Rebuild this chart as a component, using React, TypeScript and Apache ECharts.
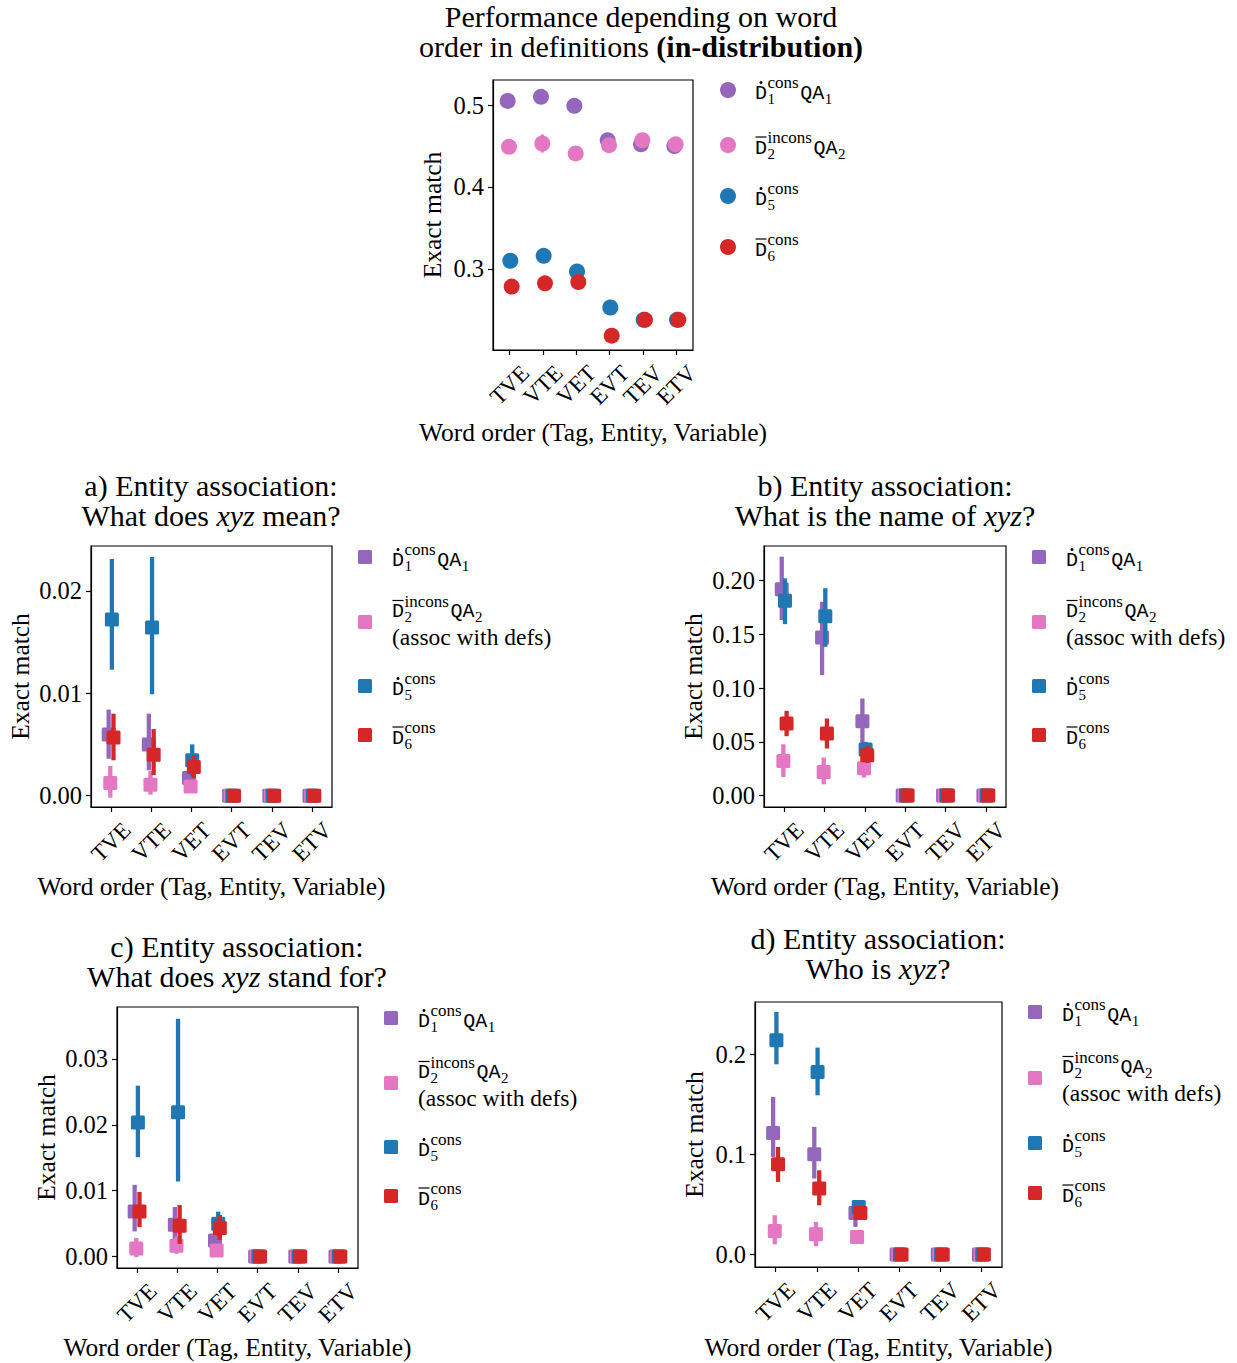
import React, { useEffect, useRef } from 'react';
import * as echarts from 'echarts';

// ---------------- data ----------------
const categories = ['TVE', 'VTE', 'VET', 'EVT', 'TEV', 'ETV'];
const seriesColors = ['#9467bd', '#e377c2', '#1f77b4', '#d62728'];
const dodge = [-0.06, -0.02, 0.02, 0.06];

// Top panel (in-distribution)
const topD1 = [0.505, 0.510, 0.499, 0.457, 0.452, 0.450];
const topD1Lo = [0.503, 0.508, 0.494, 0.453, 0.450, 0.448];
const topD1Hi = [0.507, 0.512, 0.503, 0.461, 0.454, 0.452];
const topD2 = [0.449, 0.453, 0.441, 0.451, 0.457, 0.452];
const topD2Lo = [0.447, 0.442, 0.439, 0.449, 0.455, 0.450];
const topD2Hi = [0.451, 0.464, 0.443, 0.453, 0.459, 0.454];
const topD5 = [0.310, 0.316, 0.297, 0.253, 0.238, 0.238];
const topD5Lo = [0.308, 0.314, 0.295, 0.251, 0.236, 0.236];
const topD5Hi = [0.312, 0.318, 0.299, 0.255, 0.240, 0.240];
const topD6 = [0.2785, 0.2825, 0.284, 0.2187, 0.238, 0.238];
const topD6Lo = [0.2765, 0.2805, 0.282, 0.2167, 0.236, 0.236];
const topD6Hi = [0.2805, 0.2845, 0.286, 0.2207, 0.240, 0.240];

// a) What does xyz mean?
const aD1 = [0.00596, 0.00498, 0.00172, 0, 0, 0];
const aD1Lo = [0.0036, 0.00247, 0.0010, 0, 0, 0];
const aD1Hi = [0.0084, 0.0080, 0.0025, 0, 0, 0];
const aD2 = [0.00123, 0.00107, 0.0009, 0, 0, 0];
const aD2Lo = [-0.0002, 0.0001, 0.0006, 0, 0, 0];
const aD2Hi = [0.0029, 0.0024, 0.0012, 0, 0, 0];
const aD5 = [0.0172, 0.01642, 0.00345, 0, 0, 0];
const aD5Lo = [0.0123, 0.0099, 0.0019, 0, 0, 0];
const aD5Hi = [0.0231, 0.0233, 0.0050, 0, 0, 0];
const aD6 = [0.00567, 0.0040, 0.0028, 0, 0, 0];
const aD6Lo = [0.00345, 0.0020, 0.0017, 0, 0, 0];
const aD6Hi = [0.0080, 0.0065, 0.0039, 0, 0, 0];

// b) What is the name of xyz?
const bD1 = [0.192, 0.1472, 0.0692, 0, 0, 0];
const bD1Lo = [0.1634, 0.1121, 0.0485, 0, 0, 0];
const bD1Hi = [0.2224, 0.1804, 0.0904, 0, 0, 0];
const bD2 = [0.0323, 0.022, 0.0254, 0, 0, 0];
const bD2Lo = [0.0173, 0.0105, 0.0168, 0, 0, 0];
const bD2Hi = [0.0478, 0.0354, 0.033, 0, 0, 0];
const bD5 = [0.1814, 0.167, 0.0429, 0, 0, 0];
const bD5Lo = [0.1596, 0.1385, 0.036, 0, 0, 0];
const bD5Hi = [0.2022, 0.193, 0.05, 0, 0, 0];
const bD6 = [0.0671, 0.0578, 0.0376, 0, 0, 0];
const bD6Lo = [0.0553, 0.0438, 0.0304, 0, 0, 0];
const bD6Hi = [0.0789, 0.0718, 0.046, 0, 0, 0];

// c) What does xyz stand for?
const cD1 = [0.00683, 0.0048, 0.00243, 0, 0, 0];
const cD1Lo = [0.0038, 0.0016, 0.0013, 0, 0, 0];
const cD1Hi = [0.01088, 0.0075, 0.0035, 0, 0, 0];
const cD2 = [0.00121, 0.00162, 0.0009, 0, 0, 0];
const cD2Lo = [-0.0001, 0.0004, 0.0007, 0, 0, 0];
const cD2Hi = [0.0028, 0.003, 0.0011, 0, 0, 0];
const cD5 = [0.02034, 0.0219, 0.00496, 0, 0, 0];
const cD5Lo = [0.01508, 0.0114, 0.0031, 0, 0, 0];
const cD5Hi = [0.02595, 0.0361, 0.0068, 0, 0, 0];
const cD6 = [0.00683, 0.00466, 0.0043, 0, 0, 0];
const cD6Lo = [0.00446, 0.0019, 0.0025, 0, 0, 0];
const cD6Hi = [0.0098, 0.0078, 0.0063, 0, 0, 0];

// d) Who is xyz?
const dD1 = [0.1217, 0.1003, 0.0417, 0, 0, 0];
const dD1Lo = [0.0977, 0.076, 0.0277, 0, 0, 0];
const dD1Hi = [0.1577, 0.1277, 0.049, 0, 0, 0];
const dD2 = [0.0237, 0.0203, 0.0177, 0, 0, 0];
const dD2Lo = [0.0103, 0.0083, 0.0157, 0, 0, 0];
const dD2Hi = [0.0393, 0.0327, 0.0197, 0, 0, 0];
const dD5 = [0.2143, 0.1827, 0.0477, 0, 0, 0];
const dD5Lo = [0.1903, 0.1593, 0.043, 0, 0, 0];
const dD5Hi = [0.2427, 0.207, 0.052, 0, 0, 0];
const dD6 = [0.0903, 0.066, 0.0417, 0, 0, 0];
const dD6Lo = [0.0727, 0.0493, 0.037, 0, 0, 0];
const dD6Hi = [0.1077, 0.0843, 0.046, 0, 0, 0];

// y tick values
const topTicks = [0.3, 0.4, 0.5];
const aTicks = [0, 0.01, 0.02];
const bTicks = [0, 0.05, 0.1, 0.15, 0.2];
const cTicks = [0, 0.01, 0.02, 0.03];
const dTicks = [0, 0.1, 0.2];

const legendSup = ['cons', 'incons', 'cons', 'cons'];
const legendSub = ['1', '2', '5', '6'];
const legendQA = ['1', '2', '', ''];
const legendSym = ['dot', 'bar', 'dot', 'bar'];

// ---------------- styling ----------------
const SERIF = '"Liberation Serif", "Times New Roman", serif';
const MONO = '"Liberation Mono", "DejaVu Sans Mono", monospace';
const INK = '#000';

type Panel = {
  grid: { left: number; top: number; width: number; height: number };
  yMin: number; yMax: number; ticks: number[]; digits: number;
  marker: 'circle' | 'square';
  series: { val: number[]; lo: number[]; hi: number[] }[];
  title: string; titleX: number; titleY: number;
  xNameY: number; yNameX: number;
  legendMarkerX: number; legendTextX: number; legendYs: number[];
  assoc: boolean;
};

const panels: Panel[] = [
  {
    grid: { left: 493, top: 80, width: 200, height: 270 },
    yMin: 0.2012, yMax: 0.5305, ticks: topTicks, digits: 1, marker: 'circle',
    series: [
      { val: topD1, lo: topD1Lo, hi: topD1Hi },
      { val: topD2, lo: topD2Lo, hi: topD2Hi },
      { val: topD5, lo: topD5Lo, hi: topD5Hi },
      { val: topD6, lo: topD6Lo, hi: topD6Hi },
    ],
    title: 'Performance depending on word\norder in definitions {b|(in-distribution)}',
    titleX: 641, titleY: 31.5, xNameY: 432, yNameX: 432,
    legendMarkerX: 728, legendTextX: 755, legendYs: [90, 145, 196, 247], assoc: false,
  },
  {
    grid: { left: 91, top: 546, width: 241, height: 261 },
    yMin: -0.00111, yMax: 0.02437, ticks: aTicks, digits: 2, marker: 'square',
    series: [
      { val: aD1, lo: aD1Lo, hi: aD1Hi },
      { val: aD2, lo: aD2Lo, hi: aD2Hi },
      { val: aD5, lo: aD5Lo, hi: aD5Hi },
      { val: aD6, lo: aD6Lo, hi: aD6Hi },
    ],
    title: 'a) Entity association:\nWhat does {i|xyz} mean?',
    titleX: 211, titleY: 500, xNameY: 886, yNameX: 20,
    legendMarkerX: 365, legendTextX: 392, legendYs: [557, 622, 686, 735], assoc: true,
  },
  {
    grid: { left: 764, top: 546, width: 242, height: 261 },
    yMin: -0.0106, yMax: 0.2323, ticks: bTicks, digits: 2, marker: 'square',
    series: [
      { val: bD1, lo: bD1Lo, hi: bD1Hi },
      { val: bD2, lo: bD2Lo, hi: bD2Hi },
      { val: bD5, lo: bD5Lo, hi: bD5Hi },
      { val: bD6, lo: bD6Lo, hi: bD6Hi },
    ],
    title: 'b) Entity association:\nWhat is the name of {i|xyz}?',
    titleX: 885, titleY: 500, xNameY: 886, yNameX: 693,
    legendMarkerX: 1039, legendTextX: 1066, legendYs: [557, 622, 686, 735], assoc: true,
  },
  {
    grid: { left: 117, top: 1007, width: 241, height: 261 },
    yMin: -0.00176, yMax: 0.0379, ticks: cTicks, digits: 2, marker: 'square',
    series: [
      { val: cD1, lo: cD1Lo, hi: cD1Hi },
      { val: cD2, lo: cD2Lo, hi: cD2Hi },
      { val: cD5, lo: cD5Lo, hi: cD5Hi },
      { val: cD6, lo: cD6Lo, hi: cD6Hi },
    ],
    title: 'c) Entity association:\nWhat does {i|xyz} stand for?',
    titleX: 237, titleY: 961, xNameY: 1347, yNameX: 46,
    legendMarkerX: 391, legendTextX: 418, legendYs: [1018, 1083, 1147, 1196], assoc: true,
  },
  {
    grid: { left: 755, top: 1002, width: 247, height: 265 },
    yMin: -0.0124, yMax: 0.2526, ticks: dTicks, digits: 1, marker: 'square',
    series: [
      { val: dD1, lo: dD1Lo, hi: dD1Hi },
      { val: dD2, lo: dD2Lo, hi: dD2Hi },
      { val: dD5, lo: dD5Lo, hi: dD5Hi },
      { val: dD6, lo: dD6Lo, hi: dD6Hi },
    ],
    title: 'd) Entity association:\nWho is {i|xyz}?',
    titleX: 878, titleY: 953, xNameY: 1347, yNameX: 694,
    legendMarkerX: 1035, legendTextX: 1062, legendYs: [1012, 1078, 1143, 1193], assoc: true,
  },
];

let measureCtx: CanvasRenderingContext2D | null = null;
function textWidth(text: string, size: number, family: string): number {
  if (!measureCtx) measureCtx = document.createElement('canvas').getContext('2d');
  if (!measureCtx) return text.length * size * 0.55;
  measureCtx.font = `${size}px ${family}`;
  return measureCtx.measureText(text).width;
}

function txt(x: number, y: number, text: string, size: number, family: string, align = 'left') {
  return {
    type: 'text', x, y,
    style: { text, fontSize: size, fontFamily: family, fill: INK, align, verticalAlign: 'middle' },
  };
}

function legendElements(p: Panel): any[] {
  const els: any[] = [];
  const MONO_SIZE = 20;
  const SUP_SIZE = 17;
  const SUB_SIZE = 15;
  for (let k = 0; k < 4; k++) {
    const my = p.legendYs[k];
    const color = seriesColors[k];
    if (p.marker === 'circle') {
      els.push({ type: 'circle', shape: { cx: p.legendMarkerX, cy: my, r: 8 }, style: { fill: color } });
    } else {
      els.push({ type: 'rect', shape: { x: p.legendMarkerX - 7, y: my - 7, width: 14, height: 14, r: 1.5 }, style: { fill: color } });
    }
    const twoLine = p.assoc && k === 1;
    const yc = twoLine ? my - 10.5 : my + 3;
    const x0 = p.legendTextX;
    const wD = textWidth('D', MONO_SIZE, MONO);
    els.push(txt(x0, yc, 'D', MONO_SIZE, MONO));
    if (legendSym[k] === 'dot') {
      els.push({ type: 'circle', shape: { cx: x0 + wD / 2, cy: yc - 10.5, r: 1.5 }, style: { fill: INK } });
    } else {
      els.push({ type: 'line', shape: { x1: x0 + 0.5, y1: yc - 11, x2: x0 + wD - 0.5, y2: yc - 11 }, style: { stroke: INK, lineWidth: 1.2 } });
    }
    const xs = x0 + wD + 0.5;
    els.push(txt(xs, yc - 10.5, legendSup[k], SUP_SIZE, SERIF));
    els.push(txt(xs, yc + 5.5, legendSub[k], SUB_SIZE, SERIF));
    if (legendQA[k]) {
      const wSup = Math.max(textWidth(legendSup[k], SUP_SIZE, SERIF), textWidth(legendSub[k], SUB_SIZE, SERIF));
      const xq = xs + wSup + 1.5;
      const wQA = textWidth('QA', MONO_SIZE, MONO);
      els.push(txt(xq, yc, 'QA', MONO_SIZE, MONO));
      els.push(txt(xq + wQA + 0.5, yc + 5.5, legendQA[k], SUB_SIZE, SERIF));
    }
    if (twoLine) {
      els.push(txt(x0, yc + 25, '(assoc with defs)', 23.5, SERIF));
    }
  }
  return els;
}

function buildOption() {
  const grids: any[] = [];
  const xAxes: any[] = [];
  const yAxes: any[] = [];
  const series: any[] = [];
  const graphic: any[] = [];
  const catIdx = categories.map((_, i) => i);

  panels.forEach((p, pi) => {
    grids.push({ ...p.grid, show: true, borderColor: INK, borderWidth: 1.2, backgroundColor: 'transparent', containLabel: false });
    xAxes.push({
      gridIndex: pi, type: 'value', min: -0.5, max: 5.5,
      axisLine: { show: true, onZero: false, lineStyle: { color: INK, width: 1.2 } },
      axisTick: { show: true, customValues: catIdx, length: 5, lineStyle: { color: INK, width: 1.2 } },
      axisLabel: {
        customValues: catIdx,
        formatter: (v: number) => categories[Math.round(v)] ?? '',
        rotate: 45, align: 'center', verticalAlign: 'middle', margin: 35,
        fontFamily: SERIF, fontSize: 23, color: INK,
      },
      splitLine: { show: false },
    });
    yAxes.push({
      gridIndex: pi, type: 'value', min: p.yMin, max: p.yMax,
      axisLine: { show: true, onZero: false, lineStyle: { color: INK, width: 1.2 } },
      axisTick: { show: true, customValues: p.ticks, length: 5, lineStyle: { color: INK, width: 1.2 } },
      axisLabel: {
        customValues: p.ticks,
        formatter: (v: number) => v.toFixed(p.digits),
        margin: 9, fontFamily: SERIF, fontSize: 24.5, color: INK,
      },
      splitLine: { show: false },
    });

    p.series.forEach((s, si) => {
      const color = seriesColors[si];
      const isCircle = p.marker === 'circle';
      series.push({
        type: 'custom', xAxisIndex: pi, yAxisIndex: pi, clip: false,
        encode: { x: 0, y: 1 },
        data: categories.map((_, i) => [i + dodge[si], s.val[i], s.lo[i], s.hi[i]]),
        renderItem: (params: any, api: any) => {
          const x = api.value(0);
          const c = api.coord([x, api.value(1)]);
          const cl = api.coord([x, api.value(2)]);
          const ch = api.coord([x, api.value(3)]);
          const children: any[] = [];
          if (Math.abs(cl[1] - ch[1]) > 0.5) {
            children.push({ type: 'line', shape: { x1: c[0], y1: ch[1], x2: c[0], y2: cl[1] }, style: { stroke: color, lineWidth: isCircle ? 3 : 4.3 } });
          }
          if (isCircle) {
            children.push({ type: 'circle', shape: { cx: c[0], cy: c[1], r: 8 }, style: { fill: color } });
          } else {
            children.push({ type: 'rect', shape: { x: c[0] - 7, y: c[1] - 7, width: 14, height: 14, r: 1.5 }, style: { fill: color } });
          }
          return { type: 'group', children };
        },
      });
    });

    // title
    graphic.push({
      type: 'text', x: p.titleX, y: p.titleY,
      style: {
        text: p.title, fontSize: 30, fontFamily: SERIF, fill: INK, align: 'center', verticalAlign: 'middle', lineHeight: 30,
        rich: {
          b: { fontFamily: SERIF, fontSize: 30, fontWeight: 'bold', lineHeight: 30, fill: INK },
          i: { fontFamily: SERIF, fontSize: 30, fontStyle: 'italic', lineHeight: 30, fill: INK },
        },
      },
    });
    // x axis name
    graphic.push(txt(p.grid.left + p.grid.width / 2, p.xNameY, 'Word order (Tag, Entity, Variable)', 25.5, SERIF, 'center'));
    // y axis name
    graphic.push({
      type: 'text', x: p.yNameX, y: p.grid.top + p.grid.height / 2, rotation: Math.PI / 2,
      style: { text: 'Exact match', fontSize: 25.5, fontFamily: SERIF, fill: INK, align: 'center', verticalAlign: 'middle' },
    });
    legendElements(p).forEach((e) => graphic.push(e));
  });

  return { animation: false, backgroundColor: '#fff', grid: grids, xAxis: xAxes, yAxis: yAxes, series, graphic };
}

export default function App() {
  const ref = useRef<HTMLDivElement>(null);
  useEffect(() => {
    document.body.style.margin = '0';
    if (!ref.current) return;
    const chart = echarts.init(ref.current, undefined, { renderer: 'svg' });
    chart.setOption(buildOption() as any);
    return () => chart.dispose();
  }, []);
  return <div ref={ref} style={{ width: 1237, height: 1363 }} />;
}
